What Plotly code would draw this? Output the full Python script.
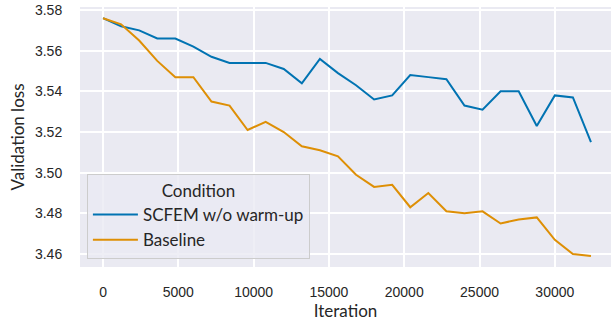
import plotly.graph_objects as go

iterations = [i * 1200 for i in range(28)]
scfem = [3.576, 3.572, 3.570, 3.566, 3.566, 3.562, 3.557, 3.554, 3.554, 3.554,
         3.551, 3.544, 3.556, 3.549, 3.543, 3.536, 3.538, 3.548, 3.547, 3.546,
         3.533, 3.531, 3.540, 3.540, 3.523, 3.538, 3.537, 3.515]
baseline = [3.576, 3.573, 3.565, 3.555, 3.547, 3.547, 3.535, 3.533, 3.521, 3.525,
            3.520, 3.513, 3.511, 3.508, 3.499, 3.493, 3.494, 3.483, 3.490, 3.481,
            3.480, 3.481, 3.475, 3.477, 3.478, 3.467, 3.460, 3.459]
x_ticks = [0, 5000, 10000, 15000, 20000, 25000, 30000]
y_ticks = [3.46, 3.48, 3.50, 3.52, 3.54, 3.56, 3.58]

fig = go.Figure()
fig.add_trace(go.Scatter(x=iterations, y=scfem, mode="lines", name="SCFEM w/o warm-up",
                         line=dict(color="#0173b2", width=2)))
fig.add_trace(go.Scatter(x=iterations, y=baseline, mode="lines", name="Baseline",
                         line=dict(color="#de8f05", width=2)))

label_font = dict(family="Lato, DejaVu Sans, sans-serif", size=17, color="#262626")
tick_font = dict(family="Liberation Sans, Arial, sans-serif", size=14, color="#262626")
legend_font = dict(family="Lato, DejaVu Sans, sans-serif", size=17, color="#262626")

fig.update_layout(
    width=611, height=324,
    margin=dict(l=80, r=0, t=7, b=57),
    plot_bgcolor="#eaeaf2", paper_bgcolor="white",
    showlegend=True,
    legend=dict(
        x=0.013, y=0.031, xanchor="left", yanchor="bottom",
        bgcolor="rgba(234,234,242,0.8)", bordercolor="#cccccc", borderwidth=1,
        font=legend_font, itemwidth=45,
        title=dict(text="Condition", side="top center", font=legend_font),
        tracegroupgap=0,
    ),
    xaxis=dict(
        range=[-1530, 33730], tickvals=x_ticks, ticktext=[str(v) for v in x_ticks],
        showgrid=True, gridcolor="white", gridwidth=1.5, zeroline=False,
        showline=False, tickfont=tick_font, ticks="outside", ticklen=12,
        tickcolor="rgba(0,0,0,0)",
        title=dict(text="Iteration", font=label_font, standoff=3),
    ),
    yaxis=dict(
        range=[3.4536, 3.5815], tickvals=y_ticks, ticktext=["%.2f" % v for v in y_ticks],
        showgrid=True, gridcolor="white", gridwidth=1.5, zeroline=False,
        showline=False, tickfont=tick_font, ticks="outside", ticklen=14,
        tickcolor="rgba(0,0,0,0)",
        title=dict(text="Validation loss", font=label_font, standoff=6),
    ),
)

fig.write_html("out.html")
